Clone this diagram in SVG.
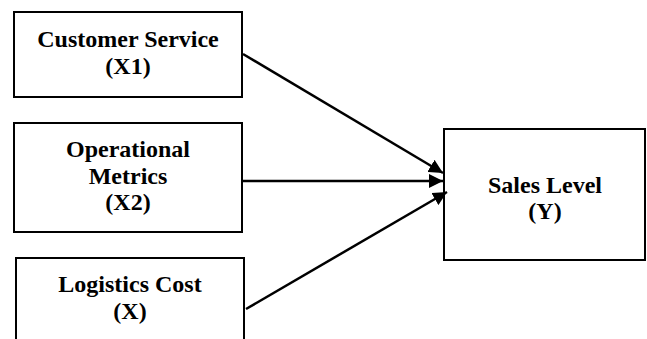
<svg xmlns="http://www.w3.org/2000/svg" width="647" height="339" viewBox="0 0 647 339">
<style>
.box{fill:#fff;stroke:#000;stroke-width:2}
.t{font-family:"Liberation Serif","Times New Roman",serif;font-weight:bold;font-size:24px;text-anchor:middle;fill:#000}
.c{stroke:#000;stroke-width:2.5;fill:none}
</style>
<defs>
<marker id="ah" markerUnits="userSpaceOnUse" markerWidth="16" markerHeight="14" refX="14" refY="7" orient="auto">
<path d="M0,0 L14,7 L0,14 Z" fill="#000"/>
</marker>
</defs>
<rect width="647" height="339" fill="#fff"/>
<g id="x1">
<rect class="box" x="14" y="12" width="228" height="85"/>
<text class="t" x="128" y="47">Customer Service</text>
<text class="t" x="128" y="74">(X1)</text>
</g>
<g id="x2">
<rect class="box" x="14" y="123" width="228" height="109"/>
<text class="t" x="128" y="157">Operational</text>
<text class="t" x="128" y="184">Metrics</text>
<text class="t" x="128" y="210">(X2)</text>
</g>
<g id="x3">
<rect class="box" x="16" y="258" width="228" height="100"/>
<text class="t" x="130" y="292">Logistics Cost</text>
<text class="t" x="130" y="319">(X)</text>
</g>
<g id="y">
<rect class="box" x="444" y="129" width="201" height="131"/>
<text class="t" x="545" y="193">Sales Level</text>
<text class="t" x="545" y="219">(Y)</text>
</g>
<g id="connectors">
<line class="c" x1="243" y1="54" x2="443" y2="173" marker-end="url(#ah)"/>
<line class="c" x1="242" y1="181" x2="443" y2="181" marker-end="url(#ah)"/>
<line class="c" x1="246" y1="309" x2="447" y2="192" marker-end="url(#ah)"/>
</g>
</svg>
